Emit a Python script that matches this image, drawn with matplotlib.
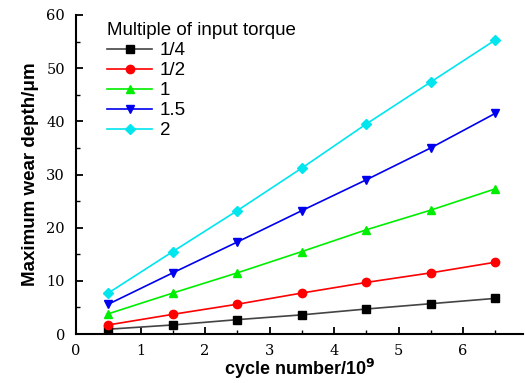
import matplotlib
matplotlib.use("Agg")
import matplotlib.pyplot as plt
from matplotlib.ticker import MultipleLocator

x = [0.5, 1.5, 2.5, 3.5, 4.5, 5.5, 6.5]
labels = ["1/4", "1/2", "1", "1.5", "2"]
y_quarter = [0.9, 1.7, 2.7, 3.6, 4.7, 5.7, 6.7]
y_half = [1.7, 3.7, 5.6, 7.7, 9.7, 11.5, 13.5]
y_one = [3.8, 7.7, 11.5, 15.5, 19.6, 23.3, 27.3]
y_onehalf = [5.6, 11.5, 17.3, 23.2, 29.0, 35.0, 41.5]
y_two = [7.7, 15.5, 23.2, 31.2, 39.5, 47.4, 55.3]
series = [y_quarter, y_half, y_one, y_onehalf, y_two]
colors = ["#000000", "#ff0000", "#00ee00", "#0000ee", "#00e5ee"]
line_colors = ["#444444", "#ff0000", "#00ee00", "#0000ee", "#00e5ee"]
markers = ["s", "o", "^", "v", "D"]

fig = plt.figure(figsize=(5.25, 3.83), dpi=100)
ax = fig.add_axes([76/525, 1-334/383, (523-76)/525, (334-15)/383])

for ys, lab, c, lc, m in zip(series, labels, colors, line_colors, markers):
    ax.plot(x, ys, color=lc, marker=m, markerfacecolor=c, markeredgecolor=c,
            ms=6 if m != "D" else 5.5, lw=1.2, label=lab)

ax.set_xlim(0, 6.93)
ax.set_ylim(0, 60)
ax.xaxis.set_major_locator(MultipleLocator(1))
ax.xaxis.set_minor_locator(MultipleLocator(0.5))
ax.yaxis.set_major_locator(MultipleLocator(10))
ax.yaxis.set_minor_locator(MultipleLocator(5))
ax.spines["top"].set_visible(False)
ax.spines["right"].set_visible(False)
for s in ["left", "bottom"]:
    ax.spines[s].set_linewidth(1.5)
ax.tick_params(which="major", direction="in", length=5, width=1.3, labelsize=10.5)
ax.tick_params(axis="y", which="major", pad=8)
ax.tick_params(axis="x", which="major", pad=7)
ax.tick_params(which="minor", direction="in", length=3, width=1.0)
for t in ax.get_xticklabels() + ax.get_yticklabels():
    t.set_fontfamily("DejaVu Serif")

ax.set_xlabel("cycle number/10$^\\mathbf{9}$", fontsize=13, fontweight="bold",
              family="Liberation Sans", labelpad=0)
ax.xaxis.set_label_coords(0.5, -0.128)
ax.xaxis.label.set_va("baseline")
ax.set_ylabel("Maximum wear depth/μm", fontsize=13.5, fontweight="bold",
              family="Liberation Sans", labelpad=5)

leg = ax.legend(title="Multiple of input torque", loc="upper left",
                bbox_to_anchor=(0.045, 1.012), frameon=False,
                prop={"family": "Liberation Sans", "size": 13.5},
                title_fontproperties={"family": "Liberation Sans", "size": 13.5},
                handlelength=2.4, labelspacing=0.15, borderaxespad=0.2,
                handletextpad=0.4)
leg._legend_box.align = "left"

fig.savefig("out.png", dpi=100)
